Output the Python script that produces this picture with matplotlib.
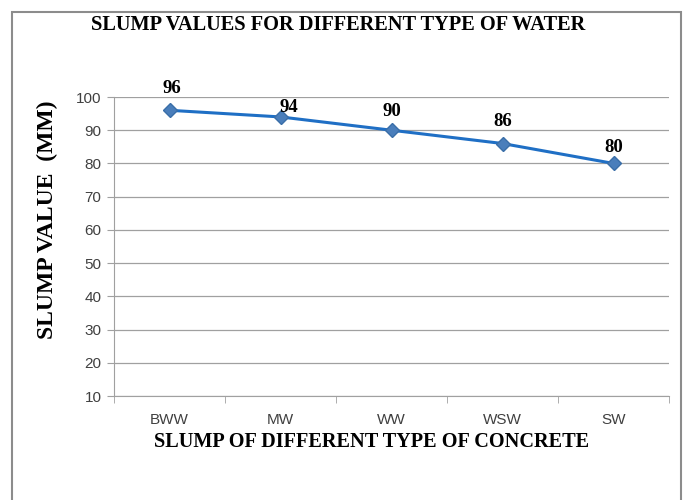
import matplotlib
matplotlib.use("Agg")
import matplotlib.pyplot as plt
from matplotlib.patches import Rectangle

# data
categories = ["BWW", "MW", "WW", "WSW", "SW"]
slump = [96, 94, 90, 86, 80]
# label offsets in pixels (dx, dy), Excel put them a bit unevenly
label_dx = [2, 8, 0, 0, 0]
label_dy = [22, 9, 19, 22, 16]
yticks = list(range(10, 101, 10))

serif = ["Liberation Serif", "DejaVu Serif"]
sans = ["Liberation Sans", "DejaVu Sans"]

fig = plt.figure(figsize=(6.83, 5.0), dpi=100)
ax = fig.add_axes([114/683, 1-396/500, (669-114)/683, (396-97)/500])

x = range(len(categories))
ax.plot(x, slump, color="#1f6fc5", lw=2.2, marker="D", ms=7.5,
        mfc="#4a7ebb", mec="#3a6ea8", zorder=3)

for i, v in enumerate(slump):
    ax.annotate(str(v), (i, v), xytext=(label_dx[i]*0.72, label_dy[i]*0.72),
                textcoords="offset points", ha="center", va="center",
                fontsize=13.5, fontweight="bold", family=serif)

ax.set_xlim(-0.5, len(categories)-0.5)
ax.set_ylim(10, 100)
ax.set_yticks(yticks)
ax.set_xticks(list(x))
ax.set_xticklabels(categories)
ax.grid(axis="y", color="#a0a0a0", lw=0.9)
ax.set_axisbelow(True)

for s in ["top", "right"]:
    ax.spines[s].set_visible(False)
ax.spines["left"].set_color("#a0a0a0")
ax.spines["bottom"].set_color("#a0a0a0")

# tick marks between categories on x
ax.set_xticks([i - 0.5 for i in range(len(categories)+1)], minor=True)
ax.tick_params(axis="x", which="major", length=0, pad=12)
ax.tick_params(axis="x", which="minor", length=5, color="#a0a0a0")
ax.tick_params(axis="y", length=5, color="#a0a0a0", pad=4)
for lab in ax.get_xticklabels() + ax.get_yticklabels():
    lab.set_family(sans)
    lab.set_fontsize(11)
    lab.set_color("#404040")

fig.text(338/683, 1-25/500, "SLUMP VALUES FOR DIFFERENT TYPE OF WATER",
         ha="center", va="center", fontsize=14.7, fontweight="bold", family=serif)
fig.text(47/683, 1-220/500, "SLUMP VALUE  (MM)", rotation=90,
         ha="center", va="center", fontsize=17, fontweight="bold", family=serif)
fig.text(372/683, 1-442/500, "SLUMP OF DIFFERENT TYPE OF CONCRETE",
         ha="center", va="center", fontsize=14.6, fontweight="bold", family=serif)

# chart frame (bottom edge is cut off in the original)
fig.patches.append(Rectangle((12/683, -0.1), (681-12)/683, 1.1-12/500,
                             transform=fig.transFigure, fill=False,
                             ec="#8c8c8c", lw=1.5))

fig.savefig("out.png", dpi=100)
